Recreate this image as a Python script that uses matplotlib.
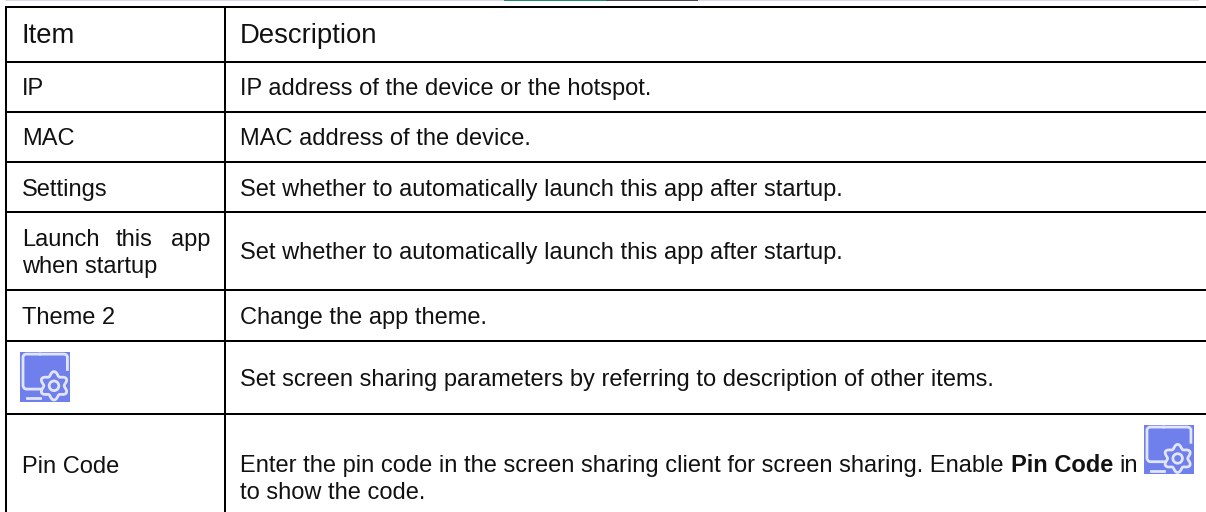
import numpy as np
import matplotlib
matplotlib.use("Agg")
import matplotlib.pyplot as plt
from matplotlib.patches import Rectangle, Circle, Polygon

W, H = 1206, 512
plt.rcParams['font.family'] = ['Liberation Sans', 'DejaVu Sans']

header = ["Item", "Description"]
items = ["IP", "MAC", "Settings", "Theme 2", "Pin Code"]
descriptions = [
    "IP address of the device or the hotspot.",
    "MAC address of the device.",
    "Set whether to automatically launch this app after startup.",
    "Set whether to automatically launch this app after startup.",
    "Change the app theme.",
    "Set screen sharing parameters by referring to description of other items.",
]
row_lines = [7, 61.5, 111.7, 161.7, 211.7, 289.5, 340.7, 413.7]

fig = plt.figure(figsize=(W / 100, H / 100), dpi=100)
ax = fig.add_axes([0, 0, 1, 1])
ax.set_xlim(0, W)
ax.set_ylim(H, 0)
ax.axis('off')

# top sliver of the previous page
ax.add_patch(Rectangle((5, 0), 1194, 1.2, fc='#dcd8ec', ec='none'))
ax.add_patch(Rectangle((504, 0), 102, 1.2, fc='#1f8a70', ec='none'))
ax.add_patch(Rectangle((606, 0), 92, 1.2, fc='#4a4a55', ec='none'))

LW = 1.45
for y in row_lines:
    ax.plot([5.3, W], [y, y], color='black', lw=LW, solid_capstyle='butt')
ax.plot([6.2, 6.2], [6, H], color='black', lw=LW, solid_capstyle='butt')
ax.plot([225, 225], [6, H], color='black', lw=LW, solid_capstyle='butt')

BODY = 17.0
HEAD = 19.8


def t(x, y, s, size=BODY, **kw):
    return ax.text(x, y, s, fontsize=size, color='#111111', va='baseline', ha='left', **kw)


t(22, 43.3, header[0], HEAD)
t(240, 43.3, header[1], HEAD)
t(22, 95, items[0])
t(22, 145, items[1])
t(22, 196, items[2])
t(22, 245.7, "Launch")
t(116, 245.7, "this")
t(171, 245.7, "app")
t(22, 273, "when startup")
t(22, 324, items[3])
t(22, 473, items[4])

for y, s in zip([95, 145, 196, 259, 324, 385.7], descriptions):
    t(240, y, s)
t(240, 472.3, "Enter the pin code in the screen sharing client for screen sharing. Enable")
t(1011, 472.3, "Pin Code", weight='bold')
t(1119, 472.3, "in")
t(240, 499.3, "to show the code.")


def icon(x, y, s):
    blue, light = '#6f80ec', '#e3e6fb'
    k = s / 50
    ax.add_patch(Rectangle((x, y), s, s, fc=blue, ec='none', zorder=3))
    lw = 2.0 * k
    fx = [20, 6, 4.2, 3, 3, 4.2, 6, 20]
    fy = [2.6, 2.6, 3.2, 5, 34.5, 36.8, 37.6, 37.6]
    ax.plot([x + v * k for v in fx], [y + v * k for v in fy], color=light, lw=lw, zorder=4)
    rx = [20, 44, 46.2, 47.4, 47.4, 47.4]
    ry = [2.6, 2.6, 3.2, 5, 10, 18]
    ax.plot([x + v * k for v in rx], [y + v * k for v in ry], color=light, lw=lw, zorder=4)
    ax.plot([x + 7 * k, x + 20 * k], [y + 46.8 * k, y + 46.8 * k], color=light, lw=lw, zorder=4)
    ang = np.linspace(0, 2 * np.pi, 240)
    r = 12.2 * k - 2.0 * k * np.cos(6 * ang)
    cx, cy = x + 34 * k, y + 34.3 * k
    ax.add_patch(Polygon(np.c_[cx + r * np.cos(ang), cy + r * np.sin(ang)], closed=True,
                         fc=blue, ec=light, lw=lw, zorder=4))
    ax.add_patch(Circle((cx, cy), 4.8 * k, fc='none', ec=light, lw=lw, zorder=5))


icon(20, 351.5, 50)
icon(1144, 424.5, 49.5)

fig.savefig('out.png', dpi=100)
